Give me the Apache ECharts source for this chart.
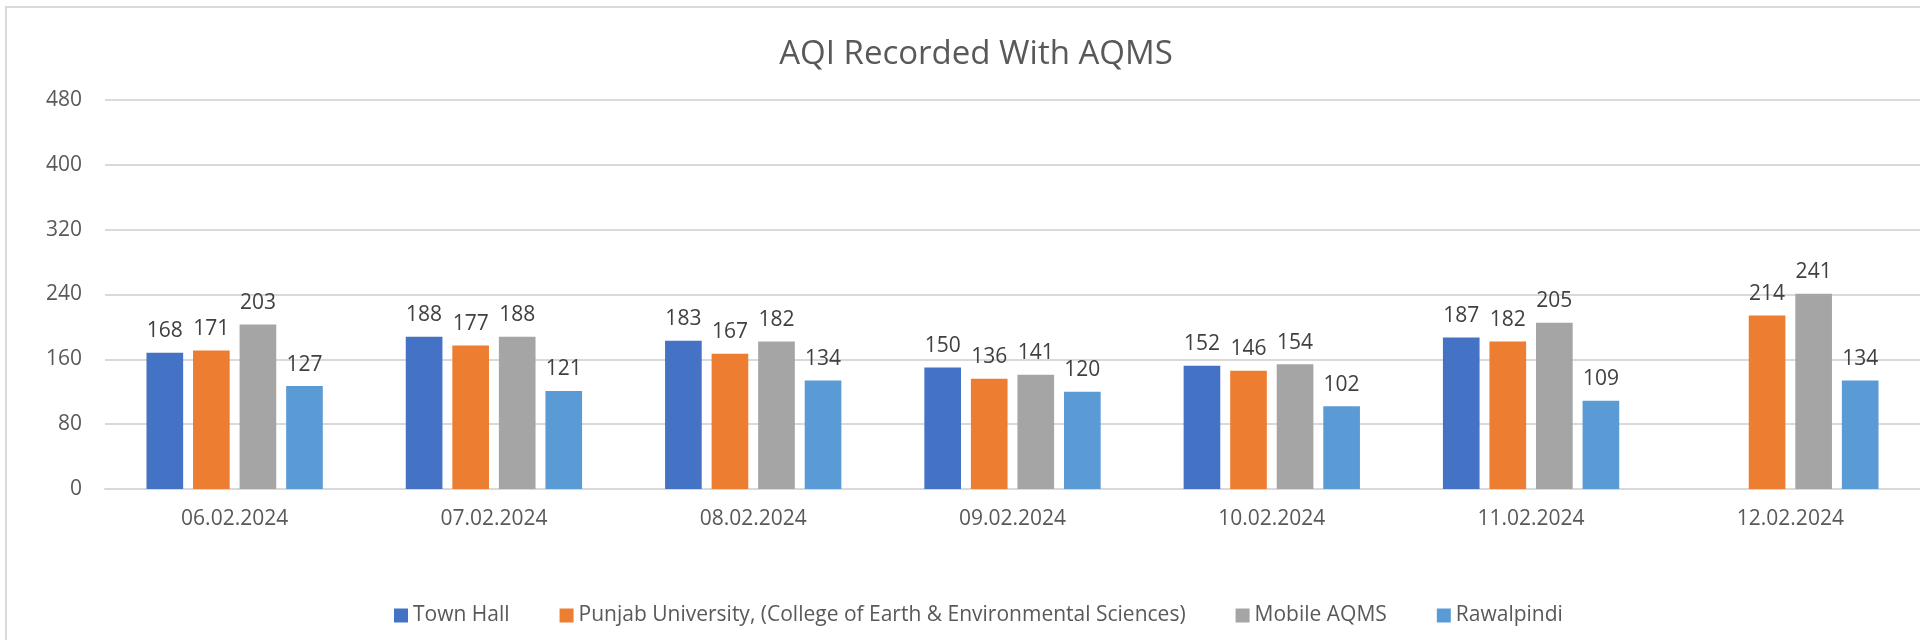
<!DOCTYPE html>
<html>
<head>
<meta charset="utf-8">
<script src="https://cdn.jsdelivr.net/npm/echarts@6/dist/echarts.min.js"></script>
<style>
  html, body { margin: 0; padding: 0; background: #fff; }
  #chart { width: 1920px; height: 640px; }
</style>
</head>
<body>
<div id="chart"></div>
<script>
// 数据
const dates = ['06.02.2024', '07.02.2024', '08.02.2024', '09.02.2024', '10.02.2024', '11.02.2024', '12.02.2024']
const townHall = [168, 188, 183, 150, 152, 187, null]
const punjabUni = [171, 177, 167, 136, 146, 182, 214]
const mobileAqms = [203, 188, 182, 141, 154, 205, 241]
const rawalpindi = [127, 121, 134, 120, 102, 109, 134]
const yTicks = [0, 80, 160, 240, 320, 400, 480]

const font = 'Open Sans'
const myChart = echarts.init(document.getElementById('chart'))

function makeSeries(name, data, color) {
    return {
        name: name,
        type: 'bar',
        data: data,
        barGap: '27%',
        barCategoryGap: '32%',
        itemStyle: { color: color },
        label: {
            show: true,
            position: 'top',
            distance: 11,
            color: '#404040',
            fontFamily: font,
            fontSize: 21
        }
    }
}

const options = {
    animation: false,
    title: {
        text: 'AQI Recorded With AQMS',
        left: 971,
        top: 33,
        textAlign: 'center',
        textStyle: {
            color: '#595959',
            fontFamily: font,
            fontWeight: 'normal',
            fontSize: 33
        }
    },
    legend: {
        left: 389,
        top: 600,
        itemWidth: 14,
        itemHeight: 14,
        itemGap: 50,
        icon: 'rect',
        textStyle: {
            color: '#595959',
            fontFamily: font,
            fontSize: 21
        }
    },
    grid: {
        left: 105,
        right: -19,
        top: 100,
        bottom: 151,
        containLabel: false
    },
    xAxis: {
        type: 'category',
        data: dates,
        axisLine: { lineStyle: { color: '#D9D9D9', width: 2 } },
        axisTick: { show: false },
        axisLabel: {
            color: '#595959',
            fontFamily: font,
            fontSize: 21,
            margin: 20
        }
    },
    yAxis: {
        type: 'value',
        min: yTicks[0],
        max: yTicks[yTicks.length - 1],
        interval: 80,
        axisLine: { show: false },
        axisTick: { show: false },
        splitLine: { lineStyle: { color: '#D9D9D9', width: 2 } },
        axisLabel: {
            color: '#595959',
            fontFamily: font,
            fontSize: 21,
            margin: 23
        }
    },
    graphic: [{
        type: 'rect',
        shape: { x: 6, y: 7, width: 2000, height: 800 },
        style: { fill: 'none', stroke: '#D9D9D9', lineWidth: 2 },
        silent: true
    }],
    series: [
        makeSeries('Town Hall', townHall, '#4472C4'),
        makeSeries('Punjab University, (College of Earth & Environmental Sciences)', punjabUni, '#ED7D31'),
        makeSeries('Mobile AQMS', mobileAqms, '#A5A5A5'),
        makeSeries('Rawalpindi', rawalpindi, '#5B9BD5')
    ]
}
myChart.setOption(options)
</script>
</body>
</html>
